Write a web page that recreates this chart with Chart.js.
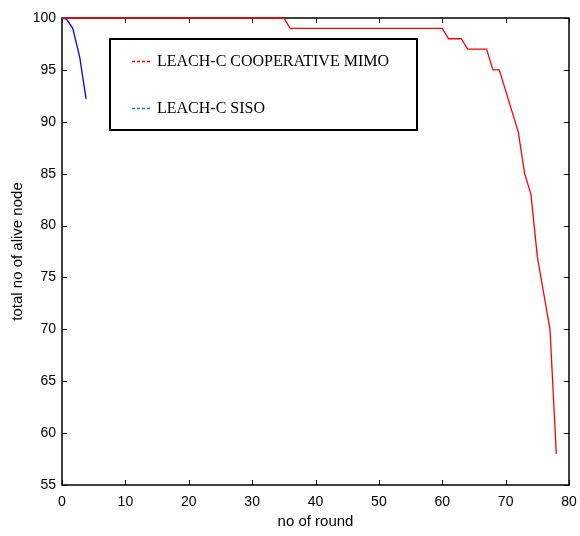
<!DOCTYPE html>
<html>
<head>
<meta charset="utf-8">
<script src="https://cdn.jsdelivr.net/npm/chart.js@4"></script>
<style>
    html, body { margin: 0; padding: 0; background: #fff; }
    #aliveChart { display: block; }
</style>
</head>
<body>
<canvas id="aliveChart" width="580" height="536"></canvas>
<script>
// rounds vs. alive nodes
const mimoRounds = [0, 35, 36, 60, 61, 63, 64, 67, 68, 69, 70, 71, 72, 73, 74, 75, 76, 77, 78];
const mimoAlive = [100, 100, 99, 99, 98, 98, 97, 97, 95, 95, 93, 91, 89, 85, 83, 77, 73.5, 70, 58];

const sisoRounds = [0, 0.7, 1.7, 2.8, 3.8];
const sisoAlive = [100, 99.9, 99, 96.2, 92.2];

const seriesLabels = ['LEACH-C COOPERATIVE MIMO', 'LEACH-C SISO'];
const xTitle = 'no of round';
const yTitle = 'total no of alive node';

function toPoints(xs, ys) {
    return xs.map((x, i) => ({ x: x, y: ys[i] }));
}

const sansFont = "'Liberation Sans', Arial, sans-serif";

// matlab style box with inward ticks on all four sides
const axesBox = {
    id: 'axesBox',
    beforeDatasetsDraw(chart) {
        const { ctx, chartArea: a, scales } = chart;
        ctx.save();
        ctx.strokeStyle = '#000';
        ctx.lineWidth = 1.5;
        ctx.strokeRect(a.left, a.top, a.right - a.left, a.bottom - a.top);
        ctx.lineWidth = 1;
        ctx.beginPath();
        scales.x.ticks.forEach(t => {
            const px = Math.round(scales.x.getPixelForValue(t.value)) + 0.5;
            ctx.moveTo(px, a.bottom); ctx.lineTo(px, a.bottom - 5);
            ctx.moveTo(px, a.top); ctx.lineTo(px, a.top + 5);
        });
        scales.y.ticks.forEach(t => {
            const py = Math.round(scales.y.getPixelForValue(t.value)) + 0.5;
            ctx.moveTo(a.left, py); ctx.lineTo(a.left + 5, py);
            ctx.moveTo(a.right, py); ctx.lineTo(a.right - 5, py);
        });
        ctx.stroke();

        // axis titles
        ctx.fillStyle = '#000';
        ctx.font = '15px ' + sansFont;
        ctx.textAlign = 'center';
        ctx.textBaseline = 'middle';
        ctx.fillText(xTitle, (a.left + a.right) / 2, 522);
        ctx.translate(18, (a.top + a.bottom) / 2);
        ctx.rotate(-Math.PI / 2);
        ctx.fillText(yTitle, 0, 0);
        ctx.restore();
    },
    afterDraw(chart) {
        const { ctx } = chart;
        ctx.save();
        ctx.fillStyle = '#fff';
        ctx.fillRect(110, 39, 307, 91);
        ctx.strokeStyle = '#000';
        ctx.lineWidth = 2;
        ctx.strokeRect(110, 39, 307, 91);
        const rowsY = [61, 108];
        chart.data.datasets.forEach((ds, i) => {
            ctx.strokeStyle = ds.legendColor;
            ctx.lineWidth = 1.3;
            ctx.setLineDash([3, 2]);
            ctx.beginPath();
            ctx.moveTo(132, rowsY[i] + 0.5);
            ctx.lineTo(152, rowsY[i] + 0.5);
            ctx.stroke();
            ctx.setLineDash([]);
            ctx.fillStyle = '#000';
            ctx.font = "16px 'Liberation Serif', 'Times New Roman', serif";
            ctx.textAlign = 'left';
            ctx.textBaseline = 'middle';
            ctx.fillText(ds.label, 157, rowsY[i] + 1);
        });
        ctx.restore();
    }
};

new Chart(document.getElementById('aliveChart'), {
    type: 'line',
    data: {
        datasets: [{
            label: seriesLabels[0],
            data: toPoints(mimoRounds, mimoAlive),
            borderColor: '#ff0000',
            legendColor: '#ff0000',
            borderWidth: 1.3,
            pointRadius: 0,
            tension: 0,
            clip: 4
        }, {
            label: seriesLabels[1],
            data: toPoints(sisoRounds, sisoAlive),
            borderColor: '#0000ff',
            legendColor: '#1a7fd4',
            borderWidth: 1.3,
            pointRadius: 0,
            tension: 0,
            clip: 4
        }]
    },
    options: {
        responsive: false,
        animation: false,
        layout: { padding: { top: 18, right: 0, left: 0, bottom: 0 } },
        plugins: {
            legend: { display: false },
            tooltip: { enabled: false }
        },
        scales: {
            x: {
                type: 'linear',
                min: 0,
                max: 80,
                ticks: {
                    stepSize: 10,
                    padding: 9,
                    color: '#000',
                    font: { family: sansFont, size: 14 }
                },
                grid: { display: false, drawTicks: false },
                border: { display: false },
                afterFit(scale) {
                    scale.height = 51;
                    scale.paddingRight = 11;
                    scale.paddingLeft = 0;
                }
            },
            y: {
                min: 55,
                max: 100,
                ticks: {
                    stepSize: 5,
                    padding: 6,
                    color: '#000',
                    font: { family: sansFont, size: 14 }
                },
                grid: { display: false, drawTicks: false },
                border: { display: false },
                afterFit(scale) { scale.width = 62; }
            }
        }
    },
    plugins: [axesBox]
});
</script>
</body>
</html>
